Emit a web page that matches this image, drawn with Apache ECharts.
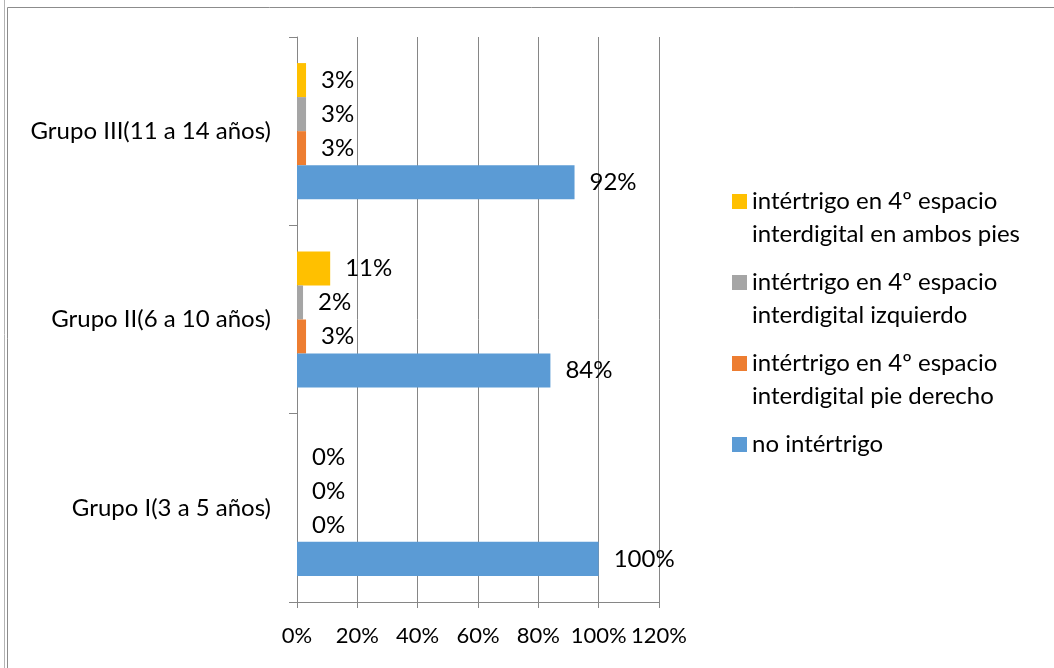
<!DOCTYPE html>
<html>
<head>
<meta charset="utf-8">
<script src="https://cdn.jsdelivr.net/npm/echarts@6/dist/echarts.min.js"></script>
<style>
html, body { margin: 0; padding: 0; background: #fff; }
#chart { width: 1054px; height: 668px; }
</style>
</head>
<body>
<div id="chart"></div>
<script>
var groups = ['Grupo I(3 a 5 años)', 'Grupo II(6 a 10 años)', 'Grupo III(11 a 14 años)'];
var noIntertrigo = [100, 84, 92];
var pieDerecho = [0, 3, 3];
var izquierdo = [0, 2, 3];
var ambosPies = [0, 11, 3];
var xTicks = [0, 20, 40, 60, 80, 100, 120];

var fontFam = 'Lato';
var gray = '#868686';

var chart = echarts.init(document.getElementById('chart'));

function makeSeries(name, values, color) {
    return {
        name: name,
        type: 'bar',
        data: values,
        barGap: 0,
        barCategoryGap: '27.7%',
        itemStyle: { color: color },
        label: {
            show: true,
            position: 'right',
            distance: 15,
            formatter: '{c}%',
            color: '#000',
            fontFamily: fontFam,
            fontSize: 24
        }
    };
}

var legendNames = [
    'intértrigo en 4º espacio interdigital en ambos pies',
    'intértrigo en 4º espacio interdigital izquierdo',
    'intértrigo en 4º espacio interdigital pie derecho',
    'no intértrigo'
];

var option = {
    animation: false,
    backgroundColor: '#fff',
    grid: { left: 297, right: 395, top: 37, bottom: 66 },
    xAxis: {
        type: 'value',
        min: xTicks[0],
        max: xTicks[xTicks.length - 1],
        interval: 20,
        axisLine: { show: true, lineStyle: { color: gray } },
        axisTick: { show: true, length: 6, lineStyle: { color: gray } },
        splitLine: { show: true, lineStyle: { color: gray } },
        axisLabel: {
            formatter: '{value}%',
            color: '#000',
            fontFamily: fontFam,
            fontSize: 22,
            margin: 23,
            showMinLabel: true,
            showMaxLabel: true
        }
    },
    yAxis: {
        type: 'category',
        data: groups,
        axisLine: { show: true, lineStyle: { color: gray } },
        axisTick: { show: true, length: 8, lineStyle: { color: gray } },
        axisLabel: {
            color: '#000',
            fontFamily: fontFam,
            fontSize: 24,
            margin: 26
        }
    },
    legend: {
        orient: 'vertical',
        left: 732,
        top: 152,
        padding: 0,
        itemWidth: 15,
        itemHeight: 15,
        itemGap: -18,
        icon: 'rect',
        data: legendNames,
        formatter: function (name) {
            // blank first line keeps the icon next to the first text line
            var idx = name.indexOf(' interdigital');
            if (idx < 0) return '\n' + name + '\n';
            return '\n' + name.slice(0, idx) + '\n' + name.slice(idx + 1);
        },
        textStyle: {
            color: '#000',
            fontFamily: fontFam,
            fontSize: 24,
            lineHeight: 33
        }
    },
    graphic: [
        { type: 'line', shape: { x1: 4.5, y1: 0, x2: 4.5, y2: 700 }, style: { stroke: '#b4b4b4', lineWidth: 1 } },
        { type: 'rect', shape: { x: 7.5, y: 7.5, width: 1100, height: 700 }, style: { fill: 'none', stroke: '#8c8c8c', lineWidth: 1 } }
    ],
    series: [
        makeSeries(legendNames[0], ambosPies, '#FFC000'),
        makeSeries(legendNames[1], izquierdo, '#A5A5A5'),
        makeSeries(legendNames[2], pieDerecho, '#ED7D31'),
        makeSeries(legendNames[3], noIntertrigo, '#5B9BD5')
    ]
};

chart.setOption(option);
</script>
</body>
</html>
